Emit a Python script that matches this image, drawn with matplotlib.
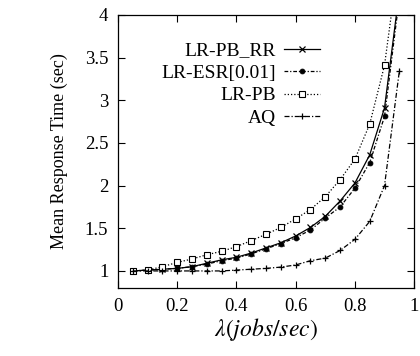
import matplotlib
matplotlib.use("Agg")
import matplotlib.pyplot as plt

plt.rcParams['font.family'] = ['Liberation Serif', 'DejaVu Serif']
plt.rcParams['mathtext.fontset'] = 'stix'

# arrival rate (jobs/sec)
lam = [0.05, 0.10, 0.15, 0.20, 0.25, 0.30, 0.35, 0.40, 0.45, 0.50,
       0.55, 0.60, 0.65, 0.70, 0.75, 0.80, 0.85, 0.90, 0.95]

# mean response time (sec)
lr_pb_rr = [1.00, 1.01, 1.02, 1.03, 1.05, 1.09, 1.13, 1.16, 1.21, 1.27,
            1.33, 1.41, 1.51, 1.64, 1.82, 2.03, 2.36, 2.91, 4.27]
lr_esr = [1.00, 1.01, 1.02, 1.03, 1.05, 1.08, 1.12, 1.15, 1.20, 1.26,
          1.32, 1.39, 1.48, 1.62, 1.75, 1.97, 2.27, 2.81, 4.20]
lr_pb = [1.00, 1.01, 1.05, 1.10, 1.14, 1.19, 1.23, 1.285, 1.355, 1.43,
         1.51, 1.61, 1.72, 1.87, 2.07, 2.31, 2.72, 3.41, 4.70]
aq = [1.00, 1.00, 1.00, 1.00, 1.00, 1.00, 1.00, 1.01, 1.02, 1.03,
      1.045, 1.07, 1.12, 1.15, 1.24, 1.37, 1.58, 2.00, 3.34]

labels = ['LR-PB_RR', 'LR-ESR[0.01]', 'LR-PB', 'AQ']

fig = plt.figure(figsize=(4.2, 3.56), dpi=100)
ax = fig.add_axes([0.281, 0.191, 0.705, 0.767])

ax.plot(lam, lr_pb_rr, color='black', lw=0.9, ls='-', marker='x',
        ms=4.5, mew=0.9, label=labels[0])
ax.plot(lam, lr_esr, color='black', lw=0.9, dashes=(3, 1.5, 1, 1.5),
        marker='o', ms=3.5, mfc='black', mew=0.6, label=labels[1])
ax.plot(lam, lr_pb, color='black', lw=0.9, dashes=(1, 1.6), marker='s',
        ms=4.5, mfc='white', mew=0.8, label=labels[2])
ax.plot(lam, aq, color='black', lw=0.9, dashes=(4, 1.6, 1, 1.6),
        marker='+', ms=5, mew=0.9, label=labels[3])

ax.set_xlim(0, 1)
ax.set_ylim(0.8, 4)
ax.set_xticks([0, 0.2, 0.4, 0.6, 0.8, 1])
ax.set_xticklabels(['0', '0.2', '0.4', '0.6', '0.8', '1'])
ax.set_yticks([1, 1.5, 2, 2.5, 3, 3.5, 4])
ax.set_yticklabels(['1', '1.5', '2', '2.5', '3', '3.5', '4'])
ax.tick_params(direction='in', top=True, right=True, length=5, width=0.8,
               labelsize=13.5, pad=7)
for s in ax.spines.values():
    s.set_linewidth(0.9)

ax.set_xlabel(r'$\lambda(jobs/sec)$', fontsize=17, labelpad=1)
ax.set_ylabel('Mean Response Time (sec)', fontsize=13, labelpad=12)

ax.legend(loc='upper right', bbox_to_anchor=(0.71, 0.93), frameon=False,
          markerfirst=False, fontsize=14, handlelength=1.9,
          handletextpad=0.4, labelspacing=0.25, borderaxespad=0)

fig.savefig('out.png', dpi=100)
